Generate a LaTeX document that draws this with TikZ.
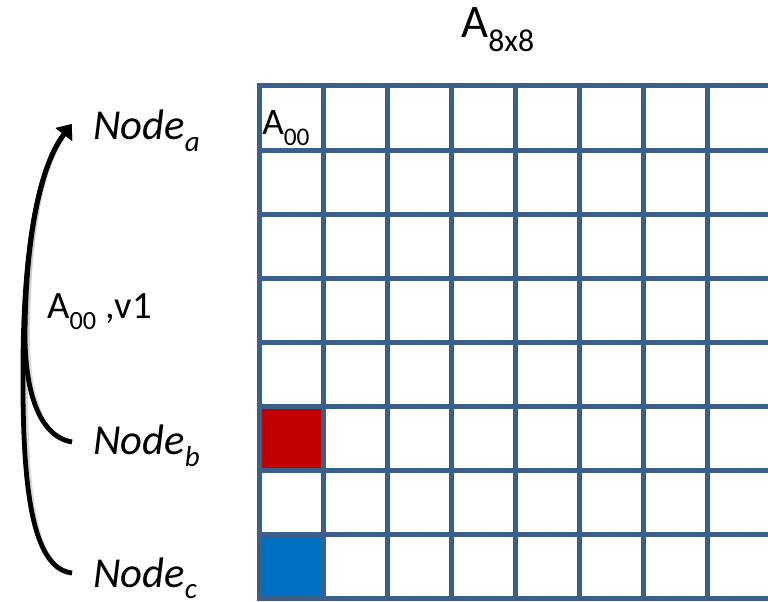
\documentclass[tikz,border=0pt]{standalone}
\usepackage{fontspec}
\setmainfont{Carlito}
\usetikzlibrary{arrows.meta}
\definecolor{gridblue}{RGB}{58,95,139}
\definecolor{cellred}{RGB}{192,0,0}
\definecolor{cellblue}{RGB}{0,112,192}
\newcommand\mysub[1]{\raisebox{-0.28em}{\scalebox{0.68}{#1}}}
\tikzset{
  gridline/.style={draw=gridblue, line width=3.75pt, line cap=rect},
  nodelabel/.style={inner sep=0pt, anchor=base west, font=\fontsize{32}{38}\selectfont\itshape},
  plainlabel/.style={inner sep=0pt, anchor=base west},
  curve/.style={draw=black, line width=3.6pt, -{Triangle[width=15pt,length=10pt]}},
  curveshadow/.style={draw=black!25, line width=3.8pt, opacity=0.6}
}
\begin{document}
\begin{tikzpicture}[x=0.75pt,y=-0.75pt]
\useasboundingbox (0,0) rectangle (768,602);
\clip (0,0) rectangle (768,602);
% coloured cells
\fill[cellred] (259.5,406.5) rectangle (323.5,470.6);
\fill[cellblue] (259.5,534.7) rectangle (323.5,598.8);
% grid
\foreach \i in {0,...,8} {
  \draw[gridline] ({259.5+64*\i},86) -- ({259.5+64*\i},598.8);
  \draw[gridline] (259.5,{86+64.1*\i}) -- (775,{86+64.1*\i});
}
% labels
\node[plainlabel, font=\fontsize{35}{42}\selectfont] (title) at (461,38) {A\mysub{8x8}};
\node[plainlabel, font=\fontsize{28}{34}\selectfont] (a00) at (262,135) {A\mysub{00}};
\node[plainlabel, font=\fontsize{29}{35}\selectfont] (msg) at (47,319) {A\mysub{00} ,v1};
\node[nodelabel] (na) at (93,140) {Node\mysub{a}};
\node[nodelabel] (nb) at (93,455) {Node\mysub{b}};
\node[nodelabel] (nc) at (93,587) {Node\mysub{c}};
% connector ends
\coordinate (ea) at (72,124);
\coordinate (eb) at (72,442);
\coordinate (ec) at (72,573);
% shadows
\begin{scope}[shift={(2.5,3)}]
\draw[curveshadow] (ec) .. controls (30,568) and (22,480) .. (23,360) .. controls (24,240) and (36,170) .. (60,134);
\draw[curveshadow] (eb) .. controls (38,436) and (26,390) .. (25,340) .. controls (25,240) and (36,170) .. (60,134);
\end{scope}
% curves
\draw[curve] (ec) .. controls (30,568) and (22,480) .. (23,360) .. controls (24,240) and (40,165) .. (ea);
\draw[curve] (eb) .. controls (38,436) and (26,390) .. (25,340) .. controls (25,240) and (40,165) .. (ea);
\end{tikzpicture}
\end{document}
